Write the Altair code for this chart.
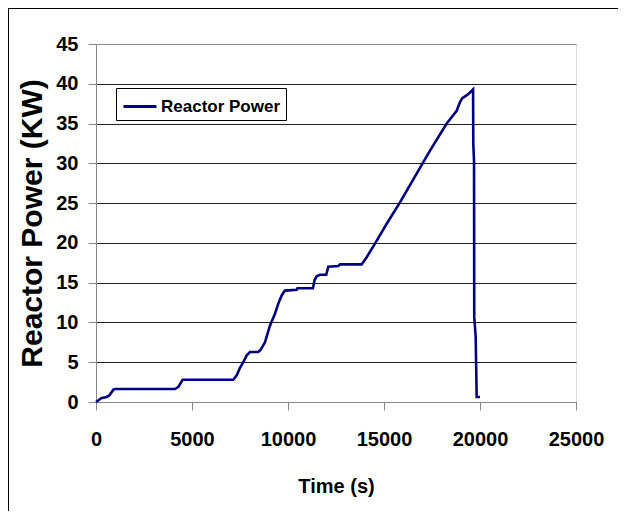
import altair as alt
import pandas as pd

# Reactor power trace
time_s = [0, 295, 555, 700, 903, 990, 4115, 4290, 4510, 7150,
          7330, 7500, 7670, 7850, 8020, 8450, 8580, 8800, 9060, 9320,
          9500, 9670, 9840, 10450, 10490, 11300, 11380, 11490, 11670, 11990,
          12100, 12620, 12708, 13837, 14097, 14530, 15140, 15833, 16700, 17396,
          18265, 18785, 18958, 19080, 19390, 19640, 19650, 19690, 19700, 19775,
          19826, 20000]
power_kw = [0, 0.5, 0.63, 0.84, 1.55, 1.63, 1.63, 1.9, 2.8, 2.8,
            3.35, 4.3, 5.0, 5.87, 6.28, 6.28, 6.58, 7.5, 9.6, 11.1,
            12.4, 13.4, 14.0, 14.1, 14.3, 14.3, 15.3, 15.8, 16.0, 16.0,
            17.0, 17.1, 17.3, 17.3, 18.2, 19.9, 22.4, 25.1, 28.7, 31.6,
            35.0, 36.6, 37.7, 38.2, 38.7, 39.3, 32.5, 30.2, 10.7, 8.2,
            0.63, 0.63]
series_name = "Reactor Power"
x_ticks = [0, 5000, 10000, 15000, 20000, 25000]
y_ticks = [0, 5, 10, 15, 20, 25, 30, 35, 40, 45]

df = pd.DataFrame({
    "t": time_s,
    "p": power_kw,
    "order": list(range(len(time_s))),
    "series": [series_name] * len(time_s),
})

FONT = "Liberation Sans"

line = alt.Chart(df).mark_line(strokeWidth=2.6, clip=False).encode(
    x=alt.X("t:Q",
            scale=alt.Scale(domain=[0, 25000], nice=False),
            axis=alt.Axis(values=x_ticks, title="Time (s)", grid=False,
                          format="d", labelFontSize=20, labelPadding=19,
                          labelFlush=False, labelFontWeight="bold",
                          titleFontSize=20, titlePadding=27,
                          tickSize=8)),
    y=alt.Y("p:Q",
            scale=alt.Scale(domain=[0, 45], nice=False),
            axis=alt.Axis(values=y_ticks, title="Reactor Power (KW)",
                          grid=True,
                          gridColor=alt.condition("datum.value == 45",
                                                  alt.value("#8c8c8c"),
                                                  alt.value("#202020")),
                          labelFontSize=20, labelPadding=10,
                          labelFontWeight="bold",
                          titleFontSize=30, titlePadding=8,
                          tickSize=8)),
    order="order:Q",
    color=alt.Color("series:N",
                    scale=alt.Scale(range=["#000080"]),
                    legend=alt.Legend(orient="none", legendX=20, legendY=44,
                                      title=None, strokeColor="#000000",
                                      fillColor="#ffffff", padding=5,
                                      symbolType="M-0.92,0L1.83,0",
                                      symbolStrokeWidth=3,
                                      symbolSize=576, labelFontSize=17,
                                      labelFont=FONT, labelFontWeight="bold",
                                      labelColor="#000000", labelOffset=13)),
)

frame = pd.DataFrame({"k": [0]})
top_border = alt.Chart(frame).mark_rule(color="#000000", strokeWidth=1).encode(
    x=alt.value(-88), x2=alt.value(530), y=alt.value(-35.5))
left_border = alt.Chart(frame).mark_rule(color="#000000", strokeWidth=1).encode(
    x=alt.value(-87.5), y=alt.value(-36), y2=alt.value(475))

chart = alt.layer(line, top_border, left_border).properties(
    width=480, height=358,
    autosize=alt.AutoSizeParams(type="none"),
    padding={"left": 88, "top": 36, "right": 42, "bottom": 109},
).configure_view(
    stroke="#8c8c8c", strokeWidth=1
).configure_axis(
    labelFont=FONT, titleFont=FONT, labelFontWeight="bold",
    titleFontWeight="bold", labelColor="#000000", titleColor="#000000",
    domainColor="#000000", tickColor="#000000", domainWidth=1, tickWidth=1,
    gridWidth=1, gridOpacity=1
).configure(background="white")

chart.save("out.html", embed_options={"renderer": "svg", "actions": False})
